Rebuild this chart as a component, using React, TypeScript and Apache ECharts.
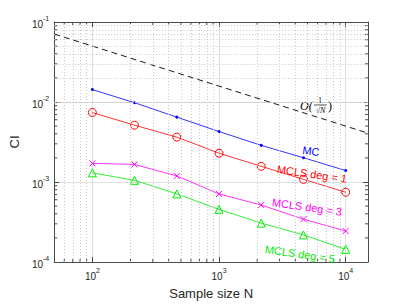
import React, { useEffect, useRef } from 'react';
import * as echarts from 'echarts';

const sampleSizes = [100, 215, 464, 1000, 2154, 4642, 10000];
const mcCI = [0.0143, 0.0098, 0.00647, 0.00427, 0.00287, 0.00201, 0.00139];
const mcls1CI = [0.00738, 0.00513, 0.00364, 0.00229, 0.00157, 0.00108, 0.000744];
const mcls3CI = [0.00171, 0.00166, 0.00119, 0.00071, 0.000515, 0.000343, 0.000244];
const mcls5CI = [0.0013, 0.00105, 0.00071, 0.000455, 0.000306, 0.000218, 0.000144];
const refLine = [
  [50, 0.0707],
  [15000, 0.00408],
];
const xRange = [50, 15000];
const yRange = [1e-4, 1e-1];
const xMinor = [60, 70, 80, 90, 200, 300, 400, 500, 600, 700, 800, 900, 2000, 3000, 4000, 5000, 6000, 7000, 8000, 9000];
const yMinor = [
  2e-4, 3e-4, 4e-4, 5e-4, 6e-4, 7e-4, 8e-4, 9e-4,
  2e-3, 3e-3, 4e-3, 5e-3, 6e-3, 7e-3, 8e-3, 9e-3,
  2e-2, 3e-2, 4e-2, 5e-2, 6e-2, 7e-2, 8e-2, 9e-2,
];

const FONT = '"Liberation Sans", Arial, Helvetica, sans-serif';
const TXT = '#262626';
const AXIS = '#4a4a4a';

function powLabel(v: number) {
  const e = Math.log10(v);
  const r = Math.round(e);
  if (Math.abs(e - r) > 1e-6) return '';
  return `{b|10}{s|${r}}`;
}

const richLabel = {
  b: { fontSize: 10, fontFamily: FONT, color: TXT, lineHeight: 14, verticalAlign: 'bottom' },
  s: { fontSize: 7, fontFamily: FONT, color: TXT, lineHeight: 14, verticalAlign: 'top', padding: [0, 0, 5, 0] },
};

export default function App() {
  const ref = useRef<HTMLDivElement>(null);
  useEffect(() => {
    const chart = echarts.init(ref.current!, null, { renderer: 'svg' });
    const pairs = (ys: number[]) => sampleSizes.map((x, i) => [x, ys[i]]);
    const baseX = {
      type: 'log',
      logBase: 10,
      min: xRange[0],
      max: xRange[1],
      splitNumber: 3,
      axisLine: { show: true, onZero: false, lineStyle: { color: AXIS, width: 1 } },
      axisTick: { show: true, inside: true, length: 5, lineStyle: { color: AXIS } },
    };
    const baseY = {
      type: 'log',
      logBase: 10,
      min: yRange[0],
      max: yRange[1],
      splitNumber: 3,
      axisLine: { show: true, onZero: false, lineStyle: { color: AXIS, width: 1 } },
      axisTick: { show: true, inside: true, length: 5, lineStyle: { color: AXIS } },
    };
    const option: any = {
      animation: false,
      backgroundColor: '#ffffff',
      grid: { left: 53, top: 22, right: 39, bottom: 39, containLabel: false },
      xAxis: [
        {
          ...baseX,
          position: 'bottom',
          name: 'Sample size N',
          nameLocation: 'middle',
          nameGap: 25,
          nameTextStyle: { fontSize: 13, fontFamily: FONT, color: TXT },
          axisLabel: { show: true, margin: 5, formatter: powLabel, rich: richLabel },
          splitLine: { show: true, lineStyle: { color: '#e0e0e0', width: 1 } },
        },
        {
          ...baseX,
          position: 'top',
          axisLabel: { show: false },
          splitLine: { show: false },
        },
      ],
      yAxis: [
        {
          ...baseY,
          position: 'left',
          name: 'CI',
          nameLocation: 'middle',
          nameGap: 18,
          nameTextStyle: { fontSize: 13, fontFamily: FONT, color: TXT },
          axisLabel: { show: true, margin: 5, formatter: powLabel, rich: richLabel },
          splitLine: { show: true, lineStyle: { color: '#e0e0e0', width: 1 } },
        },
        {
          ...baseY,
          position: 'right',
          axisLabel: { show: false },
          splitLine: { show: false },
        },
      ],
      series: [
        {
          type: 'line',
          z: 1,
          data: [],
          silent: true,
          markLine: {
            silent: true,
            symbol: 'none',
            label: { show: false },
            lineStyle: { color: '#c8c8c8', type: [1, 2], width: 1 },
            emphasis: { disabled: true },
            data: [
              ...xMinor.map((v) => ({ xAxis: v })),
              ...yMinor.map((v) => ({ yAxis: v })),
            ],
          },
        },
        {
          type: 'line',
          data: refLine,
          showSymbol: false,
          symbol: 'none',
          lineStyle: { color: '#000000', width: 0.9, type: [6, 4] },
          z: 3,
        },
        {
          type: 'line',
          name: 'MC',
          data: pairs(mcCI),
          symbol: 'circle',
          symbolSize: 3,
          itemStyle: { color: '#0000ff' },
          lineStyle: { color: '#0000ff', width: 0.8 },
          z: 4,
        },
        {
          type: 'line',
          name: 'MCLS deg = 1',
          data: pairs(mcls1CI),
          symbol: 'circle',
          symbolSize: 8,
          itemStyle: { color: 'none', borderColor: '#ff0000', borderWidth: 1 },
          lineStyle: { color: '#ff0000', width: 0.8 },
          z: 4,
        },
        {
          type: 'line',
          name: 'MCLS deg = 3',
          data: pairs(mcls3CI),
          symbol: 'path://M0,0L10,10M10,0L0,10',
          symbolSize: 6,
          itemStyle: { color: 'none', borderColor: '#ff00ff', borderWidth: 1 },
          lineStyle: { color: '#ff00ff', width: 0.8 },
          z: 4,
        },
        {
          type: 'line',
          name: 'MCLS deg = 5',
          data: pairs(mcls5CI),
          symbol: 'triangle',
          symbolSize: 8,
          itemStyle: { color: 'none', borderColor: '#00ee00', borderWidth: 1 },
          lineStyle: { color: '#00ee00', width: 0.8 },
          z: 4,
        },
      ],
    };
    chart.setOption(option);

    // minor ticks on all four sides
    const bl = chart.convertToPixel({ gridIndex: 0 }, [xRange[0], yRange[0]]) as number[];
    const tr = chart.convertToPixel({ gridIndex: 0 }, [xRange[1], yRange[1]]) as number[];
    const tickStyle = { stroke: AXIS, lineWidth: 1 };
    const els: any[] = [];
    xMinor.forEach((v) => {
      const p = chart.convertToPixel({ gridIndex: 0 }, [v, yRange[0]]) as number[];
      els.push({ type: 'line', shape: { x1: p[0], y1: bl[1], x2: p[0], y2: bl[1] - 3 }, style: tickStyle, silent: true });
      els.push({ type: 'line', shape: { x1: p[0], y1: tr[1], x2: p[0], y2: tr[1] + 3 }, style: tickStyle, silent: true });
    });
    yMinor.forEach((v) => {
      const p = chart.convertToPixel({ gridIndex: 0 }, [xRange[0], v]) as number[];
      els.push({ type: 'line', shape: { x1: bl[0], y1: p[1], x2: bl[0] + 3, y2: p[1] }, style: tickStyle, silent: true });
      els.push({ type: 'line', shape: { x1: tr[0], y1: p[1], x2: tr[0] - 3, y2: p[1] }, style: tickStyle, silent: true });
    });
    const lab = (text: string, x: number, y: number, color: string, rotDeg: number) => ({
      type: 'text',
      x,
      y,
      rotation: (rotDeg * Math.PI) / 180,
      silent: true,
      z: 10,
      style: { text, fill: color, font: `11px ${FONT}`, align: 'center', verticalAlign: 'middle' },
    });
    els.push(lab('MC', 311, 151, '#0000ff', -8));
    els.push(lab('MCLS deg = 1', 312, 174, '#ff0000', -8));
    els.push(lab('MCLS deg = 3', 307, 207, '#ff00ff', -8));
    els.push(lab('MCLS deg = 5', 300, 254, '#00ee00', -8));
    const serif = '"Liberation Serif", "DejaVu Serif", serif';
    els.push({
      type: 'group',
      silent: true,
      z: 10,
      children: [
        { type: 'text', x: 300, y: 106, style: { text: 'O(', fill: '#000', font: `italic 12px ${serif}`, align: 'left', verticalAlign: 'middle' } },
        { type: 'text', x: 320, y: 100, style: { text: '1', fill: '#000', font: `8px ${serif}`, align: 'center', verticalAlign: 'middle' } },
        { type: 'line', shape: { x1: 314, y1: 105, x2: 327, y2: 105 }, style: { stroke: '#000', lineWidth: 0.7 } },
        { type: 'text', x: 320.5, y: 110.5, style: { text: '√N', fill: '#000', font: `italic 8px ${serif}`, align: 'center', verticalAlign: 'middle' } },
        { type: 'text', x: 328, y: 106, style: { text: ')', fill: '#000', font: `12px ${serif}`, align: 'left', verticalAlign: 'middle' } },
      ],
    });
    chart.setOption({ graphic: { elements: els } });
    return () => chart.dispose();
  }, []);
  return <div ref={ref} style={{ position: 'fixed', left: 0, top: 0, width: 407, height: 305 }} />;
}
